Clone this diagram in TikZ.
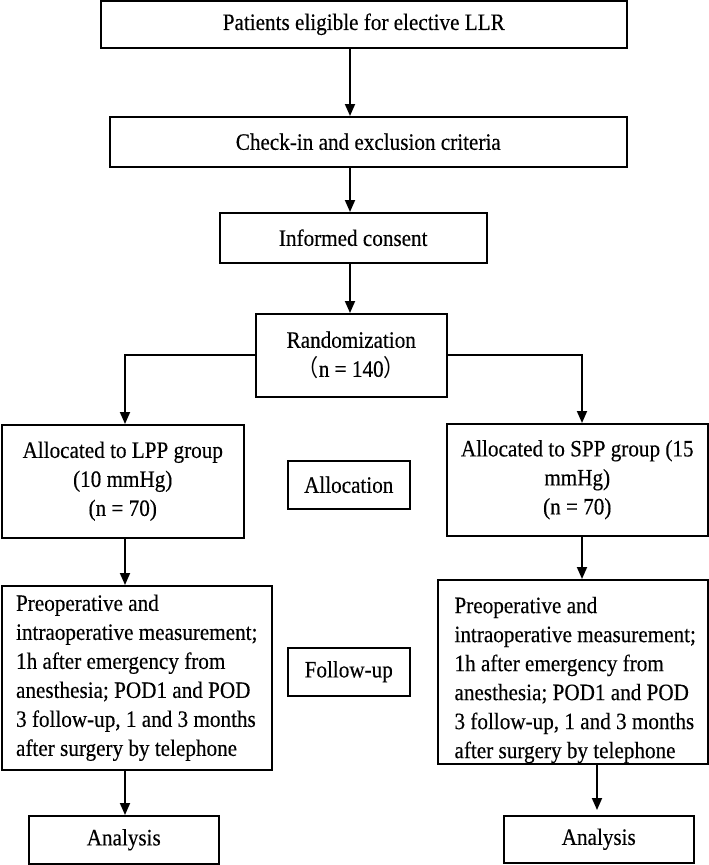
\documentclass[tikz,border=0pt]{standalone}
\usepackage{fontspec}
\setmainfont{Liberation Serif}[FakeStretch=0.9,FakeBold=0.3]
\newfontfamily\cjkfont{Noto Sans CJK SC}[FakeStretch=0.9]
\usetikzlibrary{arrows.meta}
\begin{document}
\begin{tikzpicture}[x=1pt,y=-1pt,
  box/.style={draw, line width=1.5pt, fill=white, inner sep=0pt, anchor=north west},
  txt/.style={font=\fontsize{23.5}{29}\selectfont, align=center},
  arr/.style={line width=1.8pt, -{Triangle[length=12pt,width=10pt]}}]
\useasboundingbox (0,0) rectangle (709,865);
% boxes
\node[box,txt,minimum width=526pt,minimum height=47pt] (b1) at (100,0) {Patients eligible for elective LLR};
\node[box,txt,minimum width=517pt,minimum height=50pt] (b2) at (109,116) {Check-in and exclusion criteria};
\node[box,txt,minimum width=267pt,minimum height=50pt] (b3) at (219,212) {Informed consent};
\node[box,txt,minimum width=191pt,minimum height=83pt] (rand) at (255,313) {Randomization\\{\cjkfont （}n = 140{\cjkfont ）}};
\node[box,txt,minimum width=242pt,minimum height=113pt] (la) at (1,424) {Allocated to LPP group\\(10 mmHg)\\(n = 70)};
\node[box,txt,minimum width=122pt,minimum height=48pt] (alloc) at (287,460) {Allocation};
\node[box,txt,minimum width=261pt,minimum height=112pt] (ra) at (446,423) {Allocated to SPP group (15\\mmHg)\\(n = 70)};
\node[box,txt,align=left,minimum width=270pt,minimum height=184pt] (lf) at (1,585) {Preoperative and\\intraoperative measurement;\\1h after emergency from\\anesthesia; POD1 and POD\\3 follow-up, 1 and 3 months\\after surgery by telephone};
\node[box,txt,minimum width=122pt,minimum height=48pt] (fu) at (287,647) {Follow-up};
\node[box,minimum width=270pt,minimum height=184pt] (rf) at (437,579) {};
\node[txt,align=left,anchor=west] (rft) at (451,680) {Preoperative and\\intraoperative measurement;\\1h after emergency from\\anesthesia; POD1 and POD\\3 follow-up, 1 and 3 months\\after surgery by telephone};
\node[box,txt,minimum width=190pt,minimum height=48pt] (lan) at (28,815) {Analysis};
\node[box,txt,minimum width=190pt,minimum height=47pt] (ran) at (503,815) {Analysis};
% connector x positions
\coordinate (xc) at (350,0);
\coordinate (xl) at (125,0);
\coordinate (xr) at (582,0);
\coordinate (xr2) at (597,0);
\coordinate (rtip) at (597,810);
\draw[arr] (b1.south -| xc) -- (b2.north -| xc);
\draw[arr] (b2.south -| xc) -- (b3.north -| xc);
\draw[arr] (b3.south -| xc) -- (rand.north -| xc);
\draw[arr] (rand.west) -| (la.north -| xl);
\draw[arr] (rand.east) -| (ra.north -| xr);
\draw[arr] (la.south -| xl) -- (lf.north -| xl);
\draw[arr] (ra.south -| xr) -- (rf.north -| xr);
\draw[arr] (lf.south -| xl) -- (lan.north -| xl);
\draw[arr] (rf.south -| xr2) -- (rtip);
\end{tikzpicture}
\end{document}
